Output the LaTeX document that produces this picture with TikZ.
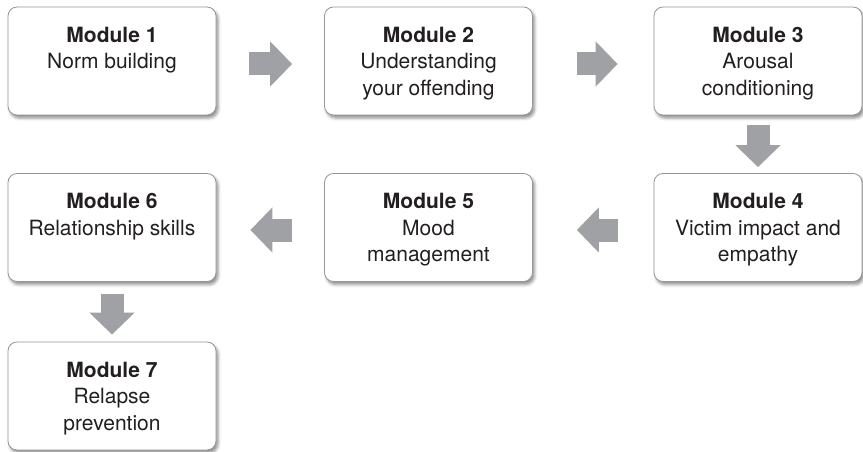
\documentclass[tikz,border=0pt]{standalone}
\usepackage{fontspec}
\setmainfont{TeX Gyre Heros}
\usetikzlibrary{arrows.meta,shadows.blur}

\definecolor{arrowgray}{RGB}{160,161,164}
\definecolor{boxline}{RGB}{150,150,152}
\definecolor{textdark}{RGB}{35,31,32}

\newcommand{\modtext}[2]{\parbox[t][68pt][t]{200pt}{\centering\fontsize{21}{26.5}\selectfont\textbf{#1}\\#2}}

\begin{document}
\begin{tikzpicture}[x=1pt,y=-1pt,
    modbox/.style={draw=boxline, line width=0.8pt, fill=white, rounded corners=9pt,
      minimum width=208pt, minimum height=108pt, inner xsep=4pt, inner ysep=20pt,
      text=textdark,
      blur shadow={shadow xshift=2pt, shadow yshift=-3pt, shadow blur radius=3pt, shadow opacity=45}},
    flow/.style={draw=arrowgray, line width=23pt, -{Triangle[width=44pt,length=22pt,fill=arrowgray]}}]
  \useasboundingbox (0,0) rectangle (863,452);

  \node[modbox] (m1) at (112,61) {\modtext{Module 1}{Norm building}};
  \node[modbox] (m2) at (428.5,61) {\modtext{Module 2}{Understanding\\your offending}};
  \node[modbox] (m3) at (758,61) {\modtext{Module 3}{Arousal\\conditioning}};
  \node[modbox] (m4) at (758,227.5) {\modtext{Module 4}{Victim impact and\\empathy}};
  \node[modbox] (m5) at (428.5,227.5) {\modtext{Module 5}{Mood\\management}};
  \node[modbox] (m6) at (112,227.5) {\modtext{Module 6}{Relationship skills}};
  \node[modbox] (m7) at (112,396) {\modtext{Module 7}{Relapse\\prevention}};

  \draw[flow, shorten <=33pt, shorten >=32pt] ([yshift=-3pt]m1.east) -- ([yshift=-3pt]m2.west);
  \draw[flow, shorten <=44pt, shorten >=36pt] ([yshift=-3pt]m2.east) -- ([yshift=-3pt]m3.west);
  \draw[flow, shorten <=10pt, shorten >=6pt] (m3.south) -- (m4.north);
  \draw[flow, shorten <=36pt, shorten >=44pt] ([yshift=-2.5pt]m4.west) -- ([yshift=-2.5pt]m5.east);
  \draw[flow, shorten <=32pt, shorten >=34pt] ([yshift=-2.5pt]m5.west) -- ([yshift=-2.5pt]m6.east);
  \draw[flow, shorten <=12pt, shorten >=7pt] (m6.south) -- (m7.north);
\end{tikzpicture}
\end{document}
